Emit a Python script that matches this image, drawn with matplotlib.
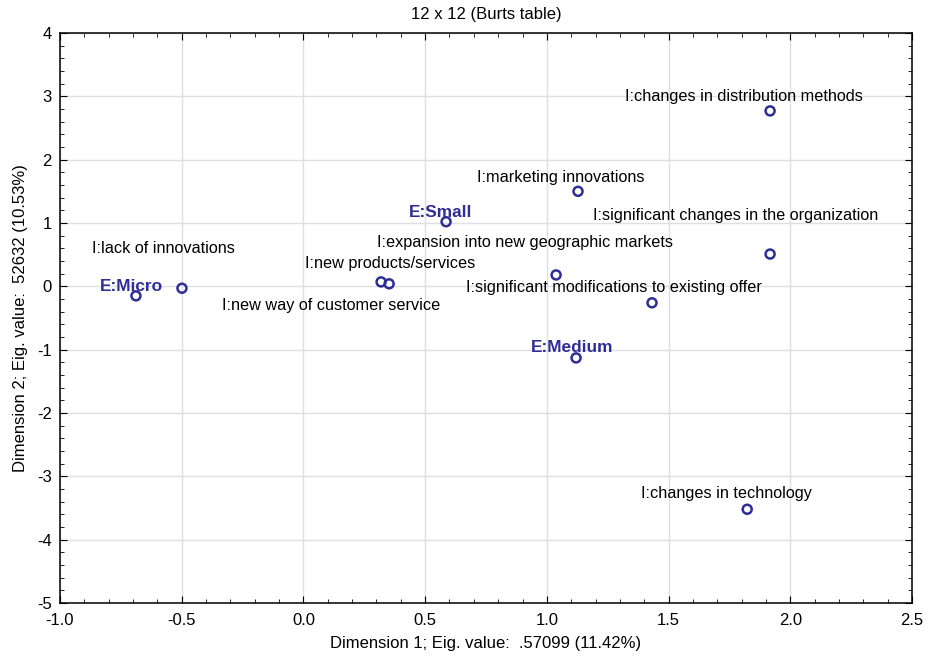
"""Correspondence analysis map (12 x 12 Burts table)."""
import matplotlib

matplotlib.use("Agg")
import matplotlib.pyplot as plt
from matplotlib.ticker import FormatStrFormatter, MultipleLocator

# data
labels = [
    "E:Micro", "I:lack of innovations", "I:new products/services",
    "I:new way of customer service", "E:Small",
    "I:expansion into new geographic markets", "I:marketing innovations",
    "I:significant changes in the organization",
    "I:significant modifications to existing offer", "E:Medium",
    "I:changes in distribution methods", "I:changes in technology",
]
dim1 = [-0.688, -0.499, 0.319, 0.352, 0.586, 1.038, 1.128, 1.917, 1.432, 1.120, 1.917, 1.823]
dim2 = [-0.15, -0.03, 0.07, 0.04, 1.02, 0.18, 1.50, 0.51, -0.26, -1.13, 2.77, -3.52]
# label offsets in pixels (left edge, vertical centre) relative to the point
label_dx = [-36, -90, -76, -167, -37, -179, -101, -177, -186, -45, -145, -106]
label_dy = [9, 40, 18, -22, 9, 32, 14, 39, 15, 10, 14, 16]

BLUE = "#2e2e96"
plt.rcParams["font.family"] = ["Liberation Sans", "DejaVu Sans"]
plt.rcParams["axes.unicode_minus"] = False

fig = plt.figure(figsize=(9.3, 6.59), dpi=100)
ax = fig.add_axes([60 / 930, 1 - 603 / 659, 852 / 930, 570 / 659])

ax.scatter(dim1, dim2, s=42, facecolors="none", edgecolors=BLUE, linewidths=1.8, zorder=3)
for lab, x, y, dx, dy in zip(labels, dim1, dim2, label_dx, label_dy):
    is_e = lab.startswith("E:")
    ax.annotate(lab, (x, y), xytext=(dx, dy), textcoords="offset pixels",
                ha="left", va="center", fontsize=12.4 if is_e else 11.7,
                color=BLUE if is_e else "black",
                fontweight="bold" if is_e else "normal", zorder=4)

ax.set_xlim(-1.0, 2.5)
ax.set_ylim(-5, 4)
ax.xaxis.set_major_locator(MultipleLocator(0.5))
ax.xaxis.set_minor_locator(MultipleLocator(0.1))
ax.yaxis.set_major_locator(MultipleLocator(1))
ax.yaxis.set_minor_locator(MultipleLocator(0.2))
ax.xaxis.set_major_formatter(FormatStrFormatter("%.1f"))
ax.tick_params(which="both", direction="in", top=True, right=True, labelsize=12)
ax.tick_params(axis="x", pad=7)
ax.tick_params(axis="y", pad=6)
ax.tick_params(which="major", length=5)
ax.tick_params(which="minor", length=3)
ax.grid(True, which="major", color="#dedee4", linewidth=1)
ax.set_axisbelow(True)
for sp in ax.spines.values():
    sp.set_linewidth(1.1)

ax.set_title("12 x 12 (Burts table)", fontsize=12, pad=10)
ax.set_xlabel("Dimension 1; Eig. value:  .57099 (11.42%)", fontsize=12, labelpad=6)
ax.set_ylabel("Dimension 2; Eig. value:  52632 (10.53%)", fontsize=12, labelpad=6)

fig.savefig("out.png", dpi=100)
